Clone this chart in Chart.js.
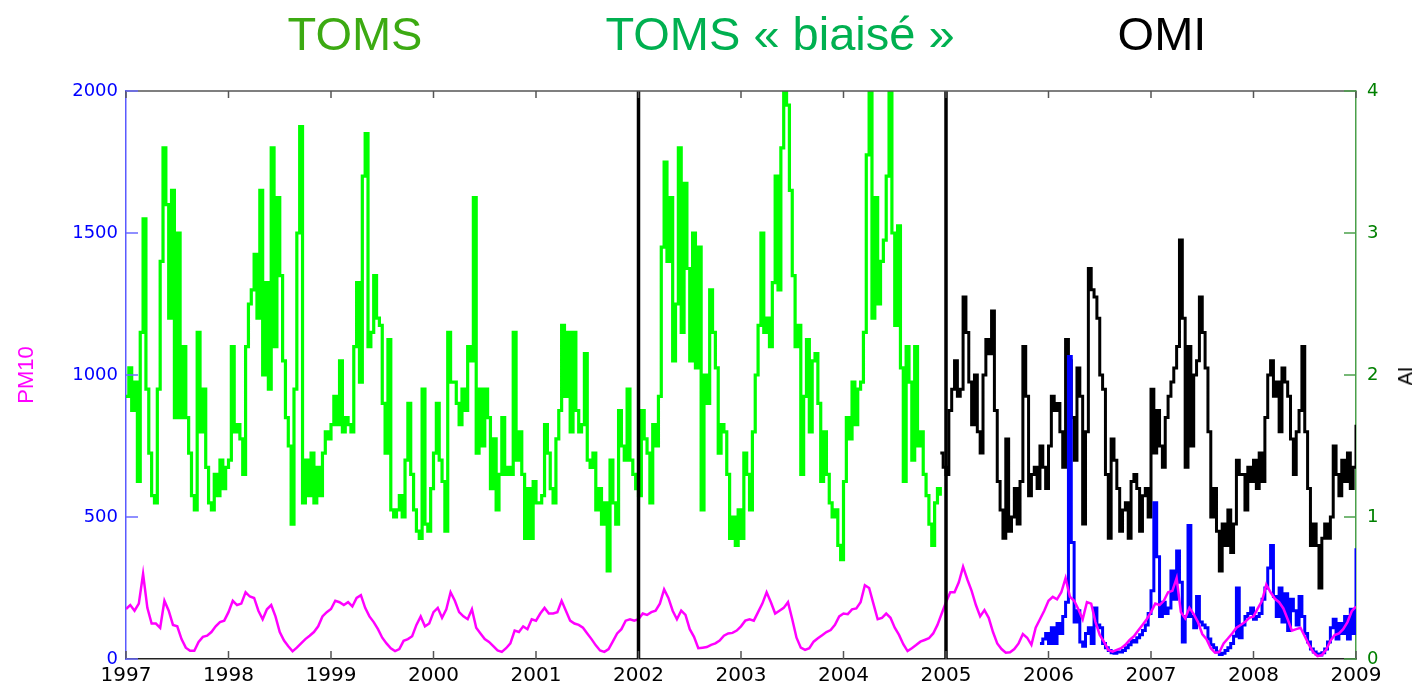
<!doctype html>
<html lang="fr">
<head>
    <meta charset="UTF-8">
    <title>TOMS / OMI et PM10</title>
    <script src="https://cdn.jsdelivr.net/npm/chart.js"></script>
    <style>
        body { margin: 0; background: #fff; }
        #wrap { position: relative; width: 1415px; height: 683px; }
        .head { position: absolute; top: 10px; font-family: 'Liberation Sans', Arial, sans-serif;
                font-size: 47px; line-height: 47px; white-space: nowrap; transform: translateX(-50%); }
        #aiLabel { position: absolute; left: 1405px; top: 376px; font-family: 'Liberation Sans', Arial, sans-serif;
                   font-size: 20px; line-height: 20px; transform: translate(-50%, -50%) rotate(-90deg); }
    </style>
</head>
<body>
<div id="wrap">
    <canvas id="aiChart" width="1415" height="683"></canvas>
    <div class="head" style="left:355px; color:#3caa12;">TOMS</div>
    <div class="head" style="left:780px; color:#00b050;">TOMS « biaisé »</div>
    <div class="head" style="left:1162px; color:#000;">OMI</div>
    <div id="aiLabel">AI</div>
</div>

<script>
    // axes
    const yearLabels = ['1997', '1998', '1999', '2000', '2001', '2002', '2003', '2004', '2005', '2006', '2007', '2008', '2009'];
    const pm10Ticks = [0, 500, 1000, 1500, 2000];
    const aiTicks = [0, 1, 2, 3, 4];
    const separatorYears = [2002, 2005];

    // TOMS AI (1997 -> fin 2004), un point tous les 1/36 an
    const tomsStart = 1997;
    const tomsStep = 1 / 36;
    const tomsAI = [
        1.85, 2.05, 1.75, 1.95, 1.25, 2.3, 3.1, 1.9, 1.45, 1.15,
        1.1, 1.9, 2.8, 3.6, 3.2, 2.4, 3.3, 1.7, 3.0, 1.7,
        2.2, 1.7, 1.45, 1.15, 1.05, 2.3, 1.6, 1.9, 1.35, 1.1,
        1.05, 1.3, 1.15, 1.4, 1.2, 1.35, 1.4, 2.2, 1.6, 1.65,
        1.55, 1.3, 2.2, 2.5, 2.6, 2.85, 2.4, 3.3, 2.0, 2.65,
        1.9, 3.6, 2.2, 3.25, 2.7, 2.1, 1.7, 1.5, 0.95, 1.9,
        3.0, 3.75, 1.1, 1.4, 1.15, 1.45, 1.1, 1.35, 1.15, 1.45,
        1.6, 1.55, 1.65, 1.85, 1.65, 2.1, 1.6, 1.7, 1.65, 1.6,
        2.2, 2.65, 1.95, 3.4, 3.7, 2.2, 2.3, 2.7, 2.4, 2.35,
        1.8, 1.45, 2.25, 1.05, 1.0, 1.05, 1.15, 1.0, 1.4, 1.8,
        1.3, 1.05, 0.9, 0.85, 1.9, 0.95, 0.9, 1.2, 1.45, 1.8,
        1.4, 1.25, 0.9, 2.3, 1.95, 1.95, 1.8, 1.65, 1.9, 1.75,
        2.2, 2.1, 3.25, 1.45, 1.9, 1.5, 1.9, 1.7, 1.2, 1.55,
        1.05, 1.3, 1.7, 1.3, 1.35, 1.3, 2.3, 1.4, 1.6, 1.3,
        0.85, 1.2, 0.85, 1.25, 1.1, 1.1, 1.15, 1.65, 1.45, 1.2,
        1.1, 1.55, 1.75, 2.35, 1.85, 2.3, 1.6, 2.3, 1.75, 1.6,
        1.65, 2.15, 1.4, 1.35, 1.45, 1.05, 1.2, 0.95, 1.1, 0.62,
        1.4, 1.1, 0.95, 1.75, 1.5, 1.4, 1.9, 1.4, 1.3, 1.2,
        1.15, 1.75, 1.55, 1.45, 1.1, 1.65, 1.5, 1.85, 2.9, 3.5,
        2.8, 3.25, 2.1, 2.5, 3.6, 2.3, 3.35, 2.75, 2.1, 3.0,
        2.05, 2.9, 1.05, 2.0, 1.8, 2.6, 2.3, 2.05, 1.45, 1.65,
        1.6, 1.3, 0.85, 1.0, 0.8, 1.05, 0.85, 1.45, 1.3, 1.05,
        1.6, 2.0, 2.35, 3.0, 2.3, 2.4, 2.2, 2.65, 3.4, 2.6,
        3.6, 4.0, 3.9, 3.3, 2.7, 2.2, 2.35, 1.3, 1.85, 2.25,
        1.6, 2.1, 2.15, 1.8, 1.25, 1.6, 1.3, 1.1, 1.0, 1.05,
        0.8, 0.7, 1.25, 1.7, 1.55, 1.95, 1.65, 1.9, 1.95, 2.3,
        3.55, 4.0, 2.4, 3.25, 2.5, 2.8, 2.95, 3.4, 4.0, 3.0,
        2.35, 3.05, 2.05, 1.25, 2.2, 1.95, 1.4, 2.2, 1.5, 1.6,
        1.3, 1.15, 0.95, 0.8, 1.1, 1.2, 1.15
    ];

    // OMI AI (fin 2004 -> 2009)
    const omiStart = 1997 + 286 / 36;
    const omiStep = 1 / 36;
    const omiAI = [
        1.45, 1.35, 1.3, 1.75, 1.9, 2.1, 1.85, 1.9, 2.55, 2.3,
        1.95, 1.65, 2.0, 1.6, 1.45, 2.0, 2.25, 2.15, 2.45, 1.75,
        1.25, 1.05, 0.85, 1.55, 0.9, 1.0, 1.2, 0.95, 1.25, 2.2,
        1.85, 1.15, 1.3, 1.35, 1.2, 1.5, 1.35, 1.2, 1.5, 1.85,
        1.75, 1.8, 1.6, 1.35, 2.25, 2.1, 1.7, 1.4, 2.05, 1.85,
        0.95, 1.6, 2.75, 2.6, 2.55, 2.4, 2.0, 1.9, 1.3, 0.85,
        1.55, 1.4, 1.2, 0.9, 1.05, 1.1, 0.85, 1.25, 1.3, 1.2,
        0.9, 1.15, 1.2, 1.0, 1.9, 1.45, 1.75, 1.5, 1.35, 1.7,
        1.85, 1.95, 2.05, 2.2, 2.95, 2.4, 1.35, 2.2, 1.5, 2.0,
        2.1, 2.55, 2.3, 2.05, 1.6, 1.0, 1.2, 0.9, 0.62, 0.95,
        0.8, 1.05, 0.75, 0.95, 1.4, 1.3, 1.3, 1.05, 1.35, 1.25,
        1.4, 1.2, 1.45, 1.25, 1.7, 2.0, 2.1, 1.85, 1.95, 1.6,
        2.05, 1.95, 1.85, 1.55, 1.3, 1.6, 1.75, 2.2, 1.6, 1.2,
        0.8, 0.95, 0.8, 0.5, 0.85, 0.95, 0.85, 1.0, 1.5, 1.3,
        1.15, 1.4, 1.25, 1.45, 1.2, 1.35, 1.65, 1.6
    ];

    // PM10 station 1 (magenta), 1997 -> 2009, un point tous les 1/24 an
    const pm10Start = 1997;
    const pm10Step = 1 / 24;
    const pm10 = [
        176, 190, 170, 195, 300, 180, 125, 125, 110, 205,
        170, 120, 115, 70, 40, 29, 29, 60, 78, 82,
        95, 115, 130, 135, 165, 205, 190, 195, 235, 220,
        215, 170, 140, 175, 190, 150, 95, 65, 45, 27,
        40, 55, 70, 82, 95, 115, 150, 165, 176, 205,
        200, 190, 200, 185, 215, 225, 180, 150, 130, 105,
        75, 55, 38, 28, 35, 64, 70, 80, 120, 150,
        115, 125, 165, 180, 145, 175, 235, 205, 165, 150,
        140, 175, 110, 90, 70, 60, 45, 30, 25, 38,
        55, 100, 95, 115, 105, 140, 135, 160, 180, 160,
        160, 165, 205, 170, 135, 125, 120, 110, 90, 70,
        48, 30, 25, 35, 62, 90, 105, 135, 140, 135,
        140, 160, 155, 165, 170, 195, 245, 215, 170, 140,
        170, 155, 105, 78, 38, 40, 42, 50, 55, 65,
        82, 90, 92, 100, 115, 135, 140, 135, 165, 195,
        235, 200, 160, 170, 180, 200, 140, 75, 40, 32,
        38, 61, 73, 84, 95, 102, 120, 150, 160, 158,
        175, 178, 200, 260, 250, 195, 140, 145, 160, 145,
        110, 85, 52, 28, 38, 49, 61, 67, 73, 90,
        120, 160, 200, 235, 235, 270, 325, 280, 240, 190,
        150, 172, 145, 95, 55, 35, 22, 24, 35, 55,
        88, 75, 50, 110, 140, 170, 205, 219, 210, 235,
        285, 220, 205, 175, 140, 200, 195, 130, 85, 60,
        32, 26, 32, 38, 50, 67, 80, 100, 120, 140,
        165, 195, 190, 205, 235, 240, 285, 165, 143, 180,
        158, 130, 88, 70, 38, 22, 24, 55, 72, 90,
        110, 120, 130, 145, 150, 178, 205, 262, 235, 212,
        200, 178, 140, 100, 105, 110, 80, 50, 24, 10,
        14, 32, 64, 84, 90, 105, 130, 168, 185
    ];

    // PM10 station 2 (bleu), fin 2005 -> 2009
    const pm10bStart = 1997 + 321 / 36;
    const pm10bStep = 1 / 36;
    const pm10b = [
        55, 70, 90, 55, 110, 55, 125, 90, 150, 200,
        1065, 410, 130, 170, 60, 45, 90, 110, 55, 180,
        120, 110, 55, 40, 30, 22, 20, 25, 25, 30,
        40, 50, 65, 60, 75, 85, 100, 120, 160, 240,
        550, 360, 150, 200, 160, 180, 310, 210, 380, 270,
        60, 150, 470, 150, 110, 220, 130, 120, 110, 70,
        50, 40, 25, 16, 20, 30, 40, 55, 80, 250,
        75, 120, 150, 160, 180, 140, 150, 160, 210, 250,
        320, 400, 220, 150, 250, 130, 230, 100, 210, 170,
        120, 220, 150, 90, 60, 35, 25, 18, 14, 22,
        35, 60, 110, 140, 70, 125, 90, 150, 70, 175,
        90, 390
    ];

    function toPoints(start, step, values) {
        return values.map((v, i) => ({ x: start + i * step, y: v }));
    }

    const tickFont = { family: 'DejaVu Sans', size: 18 };

    // petits traits de graduation vers l'intérieur + séparateurs
    const innerTicks = {
        id: 'innerTicks',
        afterDatasetsDraw(chart) {
            const ctx = chart.ctx;
            const a = chart.chartArea;
            const s = chart.scales;
            function line(x1, y1, x2, y2) {
                ctx.beginPath(); ctx.moveTo(x1, y1); ctx.lineTo(x2, y2); ctx.stroke();
            }
            ctx.save();
            ctx.strokeStyle = '#000';
            ctx.lineWidth = 3.5;
            separatorYears.forEach(yr => {
                const px = s.x.getPixelForValue(yr);
                line(px, a.top, px, a.bottom);
            });
            ctx.strokeStyle = '#555';
            ctx.lineWidth = 1.5;
            line(a.left, a.top, a.right, a.top);
            s.x.ticks.forEach(t => {
                const px = s.x.getPixelForValue(t.value);
                line(px, a.bottom, px, a.bottom - 8);
                line(px, a.top, px, a.top + 7);
            });
            ctx.strokeStyle = '#6a6aff';
            s.y.ticks.forEach(t => {
                const py = s.y.getPixelForValue(t.value);
                line(a.left, py, a.left + 12, py);
            });
            ctx.strokeStyle = '#4aa04a';
            s.y2.ticks.forEach(t => {
                const py = s.y2.getPixelForValue(t.value);
                line(a.right, py, a.right - 12, py);
            });
            ctx.restore();
        }
    };

    new Chart(document.getElementById('aiChart'), {
        type: 'line',
        data: {
            datasets: [
                { label: 'PM10', data: toPoints(pm10Start, pm10Step, pm10), yAxisID: 'y',
                  borderColor: '#ff00ff', borderWidth: 2.5 },
                { label: 'PM10 (2)', data: toPoints(pm10bStart, pm10bStep, pm10b), yAxisID: 'y',
                  borderColor: '#0000ff', borderWidth: 3, stepped: true },
                { label: 'OMI', data: toPoints(omiStart, omiStep, omiAI), yAxisID: 'y2',
                  borderColor: '#000000', borderWidth: 3, stepped: true },
                { label: 'TOMS', data: toPoints(tomsStart, tomsStep, tomsAI), yAxisID: 'y2',
                  borderColor: '#00ff00', borderWidth: 3.2, stepped: true }
            ]
        },
        options: {
            responsive: false,
            animation: false,
            devicePixelRatio: 1,
            layout: { padding: { top: 91, left: 0, right: 0, bottom: 0 } },
            elements: { point: { radius: 0 }, line: { tension: 0 } },
            plugins: { legend: { display: false }, tooltip: { enabled: false } },
            scales: {
                x: {
                    type: 'linear', min: 1997, max: 2009,
                    afterBuildTicks: sc => { sc.ticks = yearLabels.map(l => ({ value: Number(l) })); },
                    afterFit: sc => { sc.height = 24; },
                    grid: { display: false, drawTicks: false },
                    border: { color: '#222', width: 1.5 },
                    ticks: { color: '#000', font: { family: 'DejaVu Sans', size: 20 }, padding: 5,
                             maxRotation: 0, autoSkip: false,
                             callback: (v) => yearLabels[yearLabels.indexOf(String(v))] }
                },
                y: {
                    position: 'left', min: 0, max: 2000,
                    afterBuildTicks: sc => { sc.ticks = pm10Ticks.map(v => ({ value: v })); },
                    afterFit: sc => { sc.width = 126; },
                    grid: { display: false, drawTicks: false },
                    border: { color: '#5a5aff', width: 1.5 },
                    ticks: { color: '#0000ff', font: tickFont, padding: 8, callback: (v) => String(v) },
                    title: { display: true, text: 'PM10', color: '#ff00ff',
                             font: { family: 'Liberation Sans', size: 22 }, padding: { top: 14, bottom: 0 } }
                },
                y2: {
                    position: 'right', min: 0, max: 4,
                    afterBuildTicks: sc => { sc.ticks = aiTicks.map(v => ({ value: v })); },
                    afterFit: sc => { sc.width = 59; },
                    grid: { display: false, drawTicks: false },
                    border: { color: '#4aa04a', width: 1.5 },
                    ticks: { color: '#008000', font: tickFont, padding: 11, callback: (v) => String(v) }
                }
            }
        },
        plugins: [innerTicks]
    });
</script>
</body>
</html>
